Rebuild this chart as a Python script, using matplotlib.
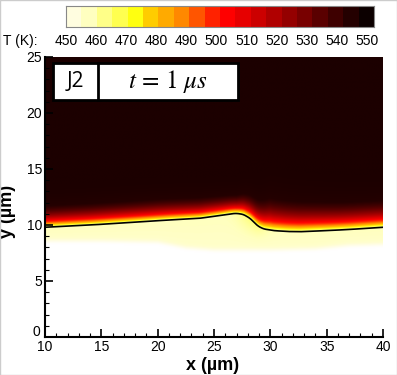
import numpy as np
import matplotlib
matplotlib.use('Agg')
import matplotlib.pyplot as plt
import matplotlib.transforms as mtransforms
from matplotlib.colors import LinearSegmentedColormap, ListedColormap
from matplotlib.patches import Rectangle
from matplotlib.ticker import MultipleLocator

plt.rcParams['font.family'] = ['Liberation Sans', 'DejaVu Sans']
plt.rcParams['mathtext.fontset'] = 'stix'

# ---- data ----
# liquid/vapour interface (black line), x and y in micrometres
x_iface = [10, 14, 18, 21, 23.75, 25.5, 26.5, 27.0, 27.6, 28.2, 28.6, 28.9, 29.4, 30.3, 31.5, 32.6, 35, 37, 40]
y_iface = [9.8, 10.0, 10.25, 10.45, 10.6, 10.85, 11.0, 11.04, 10.95, 10.6, 10.2, 9.9, 9.65, 9.5, 9.42, 9.4, 9.5, 9.6, 9.8]
# lower edge of the heated (yellow) region
x_bottom = [10, 15, 20, 22.5, 25, 30, 34, 37, 40]
y_bottom = [8.5, 8.5, 8.4, 7.9, 7.7, 7.7, 7.8, 8.1, 8.2]
# thickness of the hot layer above the interface
x_layer = [10, 20, 24, 27, 28.5, 30, 33, 36, 40]
layer_um = [1.0, 1.0, 0.95, 0.85, 1.15, 1.5, 1.4, 1.3, 1.25]

T_levels = [450, 455, 460, 465, 470, 475, 480, 485, 490, 495, 500,
            505, 510, 515, 520, 525, 530, 535, 540, 545, 550]
T_ticks = [450, 460, 470, 480, 490, 500, 510, 520, 530, 540, 550]
band_colors = ['#FFFDE0', '#FFFFC0', '#FFFF88', '#FFFF50', '#FFFF10', '#FFCC00',
               '#FFAA00', '#FF8800', '#FF5500', '#FF2200', '#FF0000', '#E60000',
               '#CC0000', '#B00000', '#940000', '#780000', '#5A0000', '#3E0000',
               '#240000', '#0C0000']

# ---- build the field ----
xg = np.linspace(10, 40, 601)
yg = np.linspace(0, 25, 801)
yi = np.interp(xg, x_iface, y_iface)
k = np.ones(9) / 9
yi_s = np.convolve(np.pad(yi, 4, mode='edge'), k, mode='valid')
yb = np.interp(xg, x_bottom, y_bottom)
L = np.interp(xg, x_layer, layer_um)
X, Y = np.meshgrid(xg, yg)
YI = yi_s[None, :]
YB = yb[None, :]
LL = L[None, :]
dy = Y - YI
above = 462 + 95 * (1 - np.exp(-np.clip(dy, 0, None) / LL))
frac = np.clip((Y - YB) / (YI - YB), 0, 1)
edge = 1 / (1 + np.exp(-(Y - YB) / 0.12))
bump = 6 * np.exp(-((X - 28.3) / 1.3) ** 2) * frac ** 2
below = 444 + 12 * edge + 2 * frac + bump
T = np.where(dy >= 0, above, below)

field_cmap = LinearSegmentedColormap.from_list(
    'field', [(0.0, '#FFFFFF')] +
    [((5 * i + 7.5) / 110.0, c) for i, c in enumerate(band_colors[:-1])] +
    [(1.0, '#1C0000')])

fig = plt.figure(figsize=(3.97, 3.75), dpi=100)
W, H = 397, 375
ax = fig.add_axes([45 / W, 1 - 337 / H, 338 / W, 280 / H])
ax.imshow(T, extent=[10, 40, 0, 25], origin='lower', aspect='auto',
          cmap=field_cmap, vmin=445, vmax=555, interpolation='bilinear')
ax.plot(xg, yi_s, color='black', lw=1.2)
ax.set_xlim(10, 40)
ax.set_ylim(0, 25)
ax.xaxis.set_major_locator(MultipleLocator(5))
ax.xaxis.set_minor_locator(MultipleLocator(1))
ax.yaxis.set_major_locator(MultipleLocator(5))
ax.yaxis.set_minor_locator(MultipleLocator(1))
ax.tick_params(which='major', direction='in', length=6, width=1.2, labelsize=10, pad=2)
ax.tick_params(which='minor', direction='in', length=3, width=0.8)
ax.spines['top'].set_visible(False)
ax.spines['right'].set_visible(False)
for s in ['left', 'bottom']:
    ax.spines[s].set_linewidth(1.5)
ax.set_xlabel('x (µm)', fontsize=13, fontweight='bold')
ax.set_ylabel('y (µm)', fontsize=13, fontweight='bold')
ax.xaxis.set_label_coords(0.497, -0.07)
ax.yaxis.set_label_coords(-0.085, 0.45)

fig.canvas.draw()
# the "0" on the y axis sits a little higher, as in the reference
lab0 = ax.get_yticklabels()[0]
for lab in ax.get_yticklabels():
    if lab.get_text() == '0':
        lab.set_transform(lab.get_transform() +
                          mtransforms.ScaledTranslation(-0.02, 0.06, fig.dpi_scale_trans))

# label box
bx0, bx1, bdiv = (53 - 45) / 338, (238 - 45) / 338, (98 - 45) / 338
by0, by1 = (337 - 100) / 280, (337 - 63) / 280
ax.add_patch(Rectangle((bx0, by0), bx1 - bx0, by1 - by0, transform=ax.transAxes,
                       facecolor='white', edgecolor='black', lw=2, zorder=5))
ax.plot([bdiv, bdiv], [by0, by1], transform=ax.transAxes, color='black', lw=2, zorder=6)
ax.text((bx0 + bdiv) / 2, (by0 + by1) / 2, 'J2', transform=ax.transAxes, fontsize=15,
        family=['Open Sans', 'DejaVu Sans'], ha='center', va='center', zorder=7)
ax.text((bdiv + bx1) / 2, (by0 + by1) / 2, r'$t\,=\,1\ \mu s$', transform=ax.transAxes,
        fontsize=18, ha='center', va='center', zorder=7)

# colour bar
cax = fig.add_axes([66 / W, 1 - 27 / H, 308 / W, 21 / H])
cax.imshow(np.arange(len(band_colors))[None, :], cmap=ListedColormap(band_colors),
           aspect='auto', extent=[0, 1, 0, 1], interpolation='nearest')
cax.set_xticks([])
cax.set_yticks([])
for s in cax.spines.values():
    s.set_color('#888888')
    s.set_linewidth(0.8)
fig.text(3 / W, 1 - 41 / H, 'T (K):', fontsize=10, ha='left', va='center')
for v in T_ticks:
    px = 66 + (v - 450) * 3.01
    fig.text(px / W, 1 - 41 / H, str(v), fontsize=10, ha='center', va='center')

fig.patches.append(Rectangle((0, 0), 1, 1, transform=fig.transFigure, fill=False,
                             edgecolor='#CCCCCC', lw=1))
fig.savefig('out.png', dpi=100)
